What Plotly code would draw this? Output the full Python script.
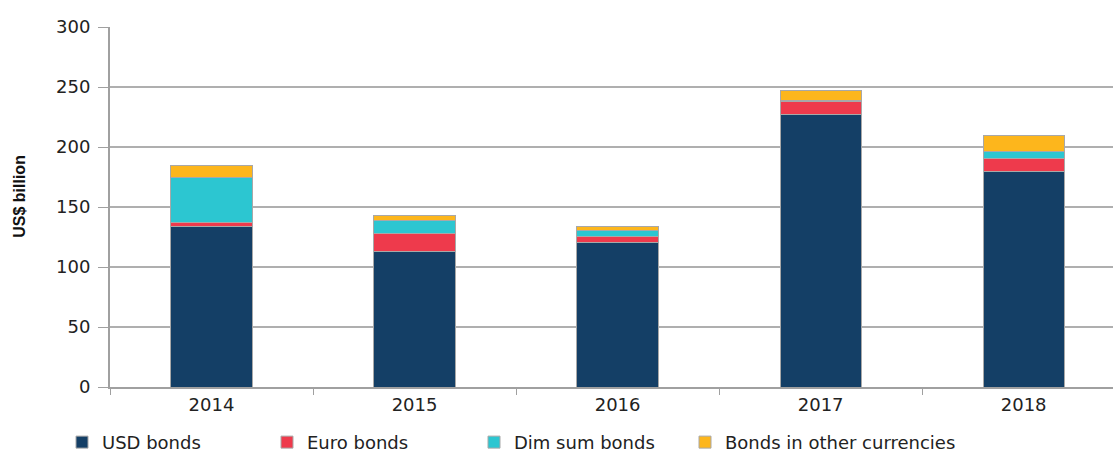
import plotly.graph_objects as go

years = ["2014", "2015", "2016", "2017", "2018"]
usd_bonds = [133.5, 113.2, 120.7, 227.0, 179.3]
euro_bonds = [4.0, 14.7, 5.0, 11.0, 11.0]
dim_sum_bonds = [37.5, 11.1, 4.7, 0.5, 5.6]
other_bonds = [10.0, 3.9, 3.6, 8.3, 13.8]
y_ticks = [0, 50, 100, 150, 200, 250, 300]

series = [
    ("USD bonds", usd_bonds, "#143F66"),
    ("Euro bonds", euro_bonds, "#EE3A4C"),
    ("Dim sum bonds", dim_sum_bonds, "#2CC6D1"),
    ("Bonds in other currencies", other_bonds, "#FDB61C"),
]
legend_ids = ["legend", "legend2", "legend3", "legend4"]
legend_px = [62, 267, 474, 685]

fig = go.Figure()
for (name, vals, col), lid in zip(series, legend_ids):
    fig.add_trace(go.Bar(
        x=years, y=vals, name=name, width=0.4, legend=lid,
        marker=dict(color=col, line=dict(color="#A8A8A8", width=1)),
    ))

font_family = "DejaVu Sans, Liberation Sans, Arial, sans-serif"
legend_y = (387.5 - 443) / 360.5
layout_legends = {}
for lid, px in zip(legend_ids, legend_px):
    layout_legends[lid] = dict(
        orientation="h", x=(px - 110) / 1003, xanchor="left",
        y=legend_y, yanchor="middle", itemwidth=30,
        font=dict(size=18, color="#222222"),
        bgcolor="rgba(0,0,0,0)",
    )

fig.update_layout(
    barmode="stack",
    width=1115, height=452,
    margin=dict(l=110, r=2, t=27, b=65, autoexpand=False),
    paper_bgcolor="white", plot_bgcolor="white",
    font=dict(family=font_family, size=18, color="#222222"),
    showlegend=True,
    **layout_legends,
)
fig.update_xaxes(
    type="category", range=[-0.5, 4.44],
    showline=True, linecolor="#A0A0A0", linewidth=2,
    ticks="outside", tickson="boundaries", ticklen=6, tickcolor="#A0A0A0", tickwidth=1,
    showgrid=False, tickfont=dict(size=18, color="#222222"),
)
fig.update_yaxes(
    range=[0, 300], tickvals=y_ticks,
    showline=True, linecolor="#A0A0A0", linewidth=2,
    ticks="outside", ticklen=10, tickcolor="#A0A0A0", tickwidth=1,
    showgrid=True, gridcolor="#AFAFAF", gridwidth=2,
    tickfont=dict(size=18, color="#222222"), ticklabelstandoff=4,
    zeroline=False,
)
fig.add_annotation(
    text="<b>US$ billion</b>", xref="paper", yref="paper",
    x=(20 - 110) / 1003, y=(387.5 - 197) / 360.5, textangle=-90, showarrow=False,
    font=dict(family="Liberation Sans Narrow, Arial Narrow, Liberation Sans, Arial", size=16, color="#111111"),
    xanchor="center", yanchor="middle",
)

fig.write_html("out.html")
